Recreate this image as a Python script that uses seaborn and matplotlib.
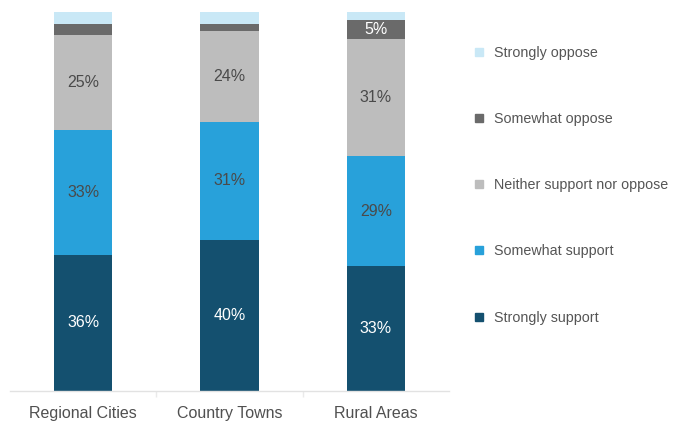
import numpy as np
import pandas as pd
import matplotlib
matplotlib.use("Agg")
import matplotlib.pyplot as plt
from matplotlib.lines import Line2D
import seaborn as sns

# Survey responses by area type (percent of respondents)
areas = ["Regional Cities", "Country Towns", "Rural Areas"]
strongly_support = [36, 40, 33]
somewhat_support = [33, 31, 29]
neither = [25, 24, 31]
somewhat_oppose = [3, 2, 5]
strongly_oppose = [3, 3, 2]

series_names = ["Strongly support", "Somewhat support",
                "Neither support nor oppose", "Somewhat oppose",
                "Strongly oppose"]
series_values = [strongly_support, somewhat_support, neither,
                 somewhat_oppose, strongly_oppose]
colors = ["#14506F", "#28A1DA", "#BDBDBD", "#6A6A6A", "#C9E8F6"]
label_colors = ["white", "#4A4A4A", "#4A4A4A", "white", "white"]
labelled = [[True] * 3, [True] * 3, [True] * 3,
            [False, False, True], [False, False, False]]

sns.set_theme(style="white")
plt.rcParams["font.family"] = ["Liberation Sans", "DejaVu Sans"]

fig = plt.figure(figsize=(6.79, 4.24), dpi=100)
ax = fig.add_axes([10 / 679, 1 - 391 / 424, 439 / 679, (391 - 12.3) / 424])

vals = np.array(series_values, dtype=float)
cum = np.cumsum(vals, axis=0)

# Stack by drawing cumulative totals from the top layer down
for i in range(len(series_names) - 1, -1, -1):
    df = pd.DataFrame({"area": areas, "value": cum[i]})
    sns.barplot(data=df, x="area", y="value", color=colors[i],
                width=0.4, saturation=1, ax=ax, linewidth=0)

# Segment value labels
for i in range(len(series_names)):
    bottoms = cum[i] - vals[i]
    for j in range(len(areas)):
        if labelled[i][j]:
            ax.text(j, bottoms[j] + vals[i][j] / 2, f"{series_values[i][j]:.0f}%",
                    ha="center", va="center", fontsize=11.5,
                    color=label_colors[i])

ax.set_xlim(-0.5, 2.5)
ax.set_ylim(0, 100)
ax.set_xlabel("")
ax.set_ylabel("")
ax.set_yticks([])
for s in ["top", "right", "left"]:
    ax.spines[s].set_visible(False)
ax.spines["bottom"].set_color("#E2E2E2")
ax.spines["bottom"].set_linewidth(1)
ax.tick_params(axis="x", which="major", length=0, pad=11,
               labelsize=11.5, labelcolor="#505050")
ax.set_xticks([0.5, 1.5], minor=True)
ax.tick_params(axis="x", which="minor", length=4, color="#EAEAEA",
               direction="out", bottom=True)

# Legend, top entry first
handles = [Line2D([0], [0], marker="s", linestyle="none", markersize=5.5,
                  markerfacecolor=colors[i], markeredgecolor=colors[i])
           for i in range(len(series_names) - 1, -1, -1)]
labels = [series_names[i] for i in range(len(series_names) - 1, -1, -1)]
leg = fig.legend(handles, labels, loc="upper left",
                 bbox_to_anchor=(468 / 679, 1 - 40 / 424),
                 frameon=False, fontsize=10.3, labelspacing=3.65,
                 handlelength=0.8, handletextpad=0.6, borderaxespad=0)
for t in leg.get_texts():
    t.set_color("#555555")

fig.savefig("out.png", dpi=100)
